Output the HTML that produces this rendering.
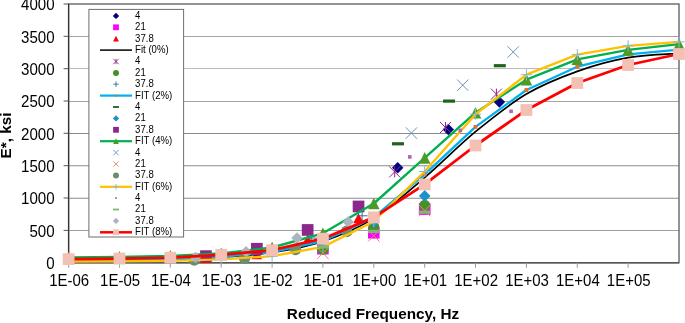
<!DOCTYPE html>
<html><head><meta charset="utf-8"><title>chart</title>
<style>html,body{margin:0;padding:0;background:#fff}svg text{font-family:"Liberation Sans",Arial,sans-serif}</style>
</head><body>
<svg width="685" height="323" viewBox="0 0 685 323" style="display:block">
<rect width="685" height="323" fill="#fff"/>
<line x1="68.6" x2="679.0" y1="36.5" y2="36.5" stroke="#a5a5a5" stroke-width="1"/>
<line x1="68.6" x2="679.0" y1="68.5" y2="68.5" stroke="#bcbcbc" stroke-width="1"/>
<line x1="68.6" x2="679.0" y1="101.5" y2="101.5" stroke="#a5a5a5" stroke-width="1"/>
<line x1="68.6" x2="679.0" y1="133.5" y2="133.5" stroke="#8c8c8c" stroke-width="1"/>
<line x1="68.6" x2="679.0" y1="165.5" y2="165.5" stroke="#a8a8a8" stroke-width="1"/>
<line x1="68.6" x2="679.0" y1="198.5" y2="198.5" stroke="#a8a8a8" stroke-width="1"/>
<line x1="68.6" x2="679.0" y1="230.5" y2="230.5" stroke="#a0a0a0" stroke-width="1"/>
<line x1="68.6" x2="679.0" y1="166.5" y2="166.5" stroke="#e2e2e2" stroke-width="1"/>
<line x1="68.6" x2="679.0" y1="197.5" y2="197.5" stroke="#e2e2e2" stroke-width="1"/>
<rect x="68.6" y="4.0" width="610.4" height="258.7" fill="none" stroke="#666" stroke-width="1.4"/>
<line x1="68.6" x2="68.6" y1="4.0" y2="262.7" stroke="#333" stroke-width="1.2"/>
<line x1="68.6" x2="679.0" y1="262.7" y2="262.7" stroke="#555" stroke-width="1.4"/>
<line x1="63.599999999999994" x2="68.6" y1="262.7" y2="262.7" stroke="#555" stroke-width="1"/>
<text transform="translate(54.6,269.1) scale(1,1.05)" text-anchor="end" font-size="15.1" fill="#000">0</text>
<line x1="63.599999999999994" x2="68.6" y1="230.4" y2="230.4" stroke="#555" stroke-width="1"/>
<text transform="translate(54.6,236.8) scale(1,1.05)" text-anchor="end" font-size="15.1" fill="#000">500</text>
<line x1="63.599999999999994" x2="68.6" y1="198.0" y2="198.0" stroke="#555" stroke-width="1"/>
<text transform="translate(54.6,204.4) scale(1,1.05)" text-anchor="end" font-size="15.1" fill="#000">1000</text>
<line x1="63.599999999999994" x2="68.6" y1="165.7" y2="165.7" stroke="#555" stroke-width="1"/>
<text transform="translate(54.6,172.1) scale(1,1.05)" text-anchor="end" font-size="15.1" fill="#000">1500</text>
<line x1="63.599999999999994" x2="68.6" y1="133.3" y2="133.3" stroke="#555" stroke-width="1"/>
<text transform="translate(54.6,139.8) scale(1,1.05)" text-anchor="end" font-size="15.1" fill="#000">2000</text>
<line x1="63.599999999999994" x2="68.6" y1="101.0" y2="101.0" stroke="#555" stroke-width="1"/>
<text transform="translate(54.6,107.4) scale(1,1.05)" text-anchor="end" font-size="15.1" fill="#000">2500</text>
<line x1="63.599999999999994" x2="68.6" y1="68.7" y2="68.7" stroke="#555" stroke-width="1"/>
<text transform="translate(54.6,75.1) scale(1,1.05)" text-anchor="end" font-size="15.1" fill="#000">3000</text>
<line x1="63.599999999999994" x2="68.6" y1="36.3" y2="36.3" stroke="#555" stroke-width="1"/>
<text transform="translate(54.6,42.7) scale(1,1.05)" text-anchor="end" font-size="15.1" fill="#000">3500</text>
<line x1="63.599999999999994" x2="68.6" y1="4.0" y2="4.0" stroke="#555" stroke-width="1"/>
<text transform="translate(54.6,10.4) scale(1,1.05)" text-anchor="end" font-size="15.1" fill="#000">4000</text>
<line x1="68.6" x2="68.6" y1="262.7" y2="267.7" stroke="#999" stroke-width="1"/>
<text transform="translate(69.2,285.7) scale(1,1.05)" text-anchor="middle" font-size="15" fill="#000">1E-06</text>
<line x1="119.5" x2="119.5" y1="262.7" y2="267.7" stroke="#999" stroke-width="1"/>
<text transform="translate(120.1,285.7) scale(1,1.05)" text-anchor="middle" font-size="15" fill="#000">1E-05</text>
<line x1="170.3" x2="170.3" y1="262.7" y2="267.7" stroke="#999" stroke-width="1"/>
<text transform="translate(170.9,285.7) scale(1,1.05)" text-anchor="middle" font-size="15" fill="#000">1E-04</text>
<line x1="221.2" x2="221.2" y1="262.7" y2="267.7" stroke="#999" stroke-width="1"/>
<text transform="translate(221.8,285.7) scale(1,1.05)" text-anchor="middle" font-size="15" fill="#000">1E-03</text>
<line x1="272.1" x2="272.1" y1="262.7" y2="267.7" stroke="#999" stroke-width="1"/>
<text transform="translate(272.7,285.7) scale(1,1.05)" text-anchor="middle" font-size="15" fill="#000">1E-02</text>
<line x1="322.9" x2="322.9" y1="262.7" y2="267.7" stroke="#999" stroke-width="1"/>
<text transform="translate(323.5,285.7) scale(1,1.05)" text-anchor="middle" font-size="15" fill="#000">1E-01</text>
<line x1="373.8" x2="373.8" y1="262.7" y2="267.7" stroke="#999" stroke-width="1"/>
<text transform="translate(374.4,285.7) scale(1,1.05)" text-anchor="middle" font-size="15" fill="#000">1E+00</text>
<line x1="424.7" x2="424.7" y1="262.7" y2="267.7" stroke="#999" stroke-width="1"/>
<text transform="translate(425.3,285.7) scale(1,1.05)" text-anchor="middle" font-size="15" fill="#000">1E+01</text>
<line x1="475.5" x2="475.5" y1="262.7" y2="267.7" stroke="#999" stroke-width="1"/>
<text transform="translate(476.1,285.7) scale(1,1.05)" text-anchor="middle" font-size="15" fill="#000">1E+02</text>
<line x1="526.4" x2="526.4" y1="262.7" y2="267.7" stroke="#999" stroke-width="1"/>
<text transform="translate(527.0,285.7) scale(1,1.05)" text-anchor="middle" font-size="15" fill="#000">1E+03</text>
<line x1="577.3" x2="577.3" y1="262.7" y2="267.7" stroke="#999" stroke-width="1"/>
<text transform="translate(577.9,285.7) scale(1,1.05)" text-anchor="middle" font-size="15" fill="#000">1E+04</text>
<line x1="628.1" x2="628.1" y1="262.7" y2="267.7" stroke="#999" stroke-width="1"/>
<text transform="translate(628.7,285.7) scale(1,1.05)" text-anchor="middle" font-size="15" fill="#000">1E+05</text>
<text x="373" y="319.4" text-anchor="middle" font-size="15.3" font-weight="bold" fill="#000">Reduced Frequency, Hz</text>
<text transform="translate(11.0,135.5) rotate(-90)" text-anchor="middle" font-size="15.3" font-weight="bold" fill="#000">E*, ksi</text>
<path d="M397.7 162.1L403.4 167.8L397.7 173.5L392.0 167.8Z" fill="#000080"/>
<path d="M448.3 123.8L454.0 129.5L448.3 135.2L442.6 129.5Z" fill="#000080"/>
<path d="M499.4 96.3L505.1 102.0L499.4 107.7L493.7 102.0Z" fill="#000080"/>
<rect x="317.1" y="242.9" width="11.6" height="11.6" fill="#ff00ff"/>
<rect x="368.0" y="227.0" width="11.6" height="11.6" fill="#ff00ff"/>
<rect x="418.9" y="203.3" width="11.6" height="11.6" fill="#ff00ff"/>
<path d="M205.9 252.6L211.1 263.0L200.7 263.0Z" fill="#ff0000"/>
<path d="M256.8 248.8L262.0 259.2L251.6 259.2Z" fill="#ff0000"/>
<path d="M307.7 234.2L312.9 244.6L302.5 244.6Z" fill="#ff0000"/>
<path d="M358.5 212.9L363.7 223.3L353.3 223.3Z" fill="#ff0000"/>
<path d="M68.6 260.2C77.1 260.2 102.5 260.1 119.5 260.0C136.4 259.8 153.4 259.8 170.3 259.3C187.3 258.9 204.2 258.3 221.2 257.2C238.2 256.1 255.1 255.1 272.1 252.5C289.0 249.8 306.0 247.0 322.9 241.4C339.9 235.7 356.8 229.0 373.8 218.4C390.8 207.8 407.7 192.0 424.7 177.6C441.6 163.1 458.6 145.6 475.5 131.7C492.5 117.8 509.4 104.1 526.4 94.1C543.4 84.0 560.3 77.5 577.3 71.4C594.2 65.3 611.2 60.7 628.1 57.7C645.1 54.7 670.5 54.0 679.0 53.3" fill="none" stroke="#000" stroke-width="1.7"/>
<path d="M389.2 166.4L400.2 177.4M389.2 177.4L400.2 166.4" stroke="#8a2a8c" stroke-width="1" fill="none"/><path d="M394.7 166.4L394.7 177.4" stroke="#8a2a8c" stroke-width="1" fill="none"/>
<path d="M440.0 122.0L451.0 133.0M440.0 133.0L451.0 122.0" stroke="#8a2a8c" stroke-width="1" fill="none"/><path d="M445.5 122.0L445.5 133.0" stroke="#8a2a8c" stroke-width="1" fill="none"/>
<path d="M490.9 88.6L501.9 99.6M490.9 99.6L501.9 88.6" stroke="#8a2a8c" stroke-width="1" fill="none"/><path d="M496.4 88.6L496.4 99.6" stroke="#8a2a8c" stroke-width="1" fill="none"/>
<circle cx="322.9" cy="249.4" r="5.6" fill="#469028"/>
<circle cx="373.8" cy="227.0" r="5.6" fill="#469028"/>
<circle cx="424.7" cy="205.4" r="5.6" fill="#469028"/>
<path d="M204.0 256.2L215.0 256.2M209.5 250.7L209.5 261.7" stroke="#2f6f9f" stroke-width="1" fill="none"/>
<path d="M254.9 251.7L265.9 251.7M260.4 246.2L260.4 257.2" stroke="#2f6f9f" stroke-width="1" fill="none"/>
<path d="M305.7 238.1L316.7 238.1M311.2 232.6L311.2 243.6" stroke="#2f6f9f" stroke-width="1" fill="none"/>
<path d="M356.6 215.8L367.6 215.8M362.1 210.3L362.1 221.3" stroke="#2f6f9f" stroke-width="1" fill="none"/>
<path d="M68.6 260.1L119.5 259.9L170.3 259.1L221.2 256.9L272.1 252.0L322.9 241.0L373.8 217.4L424.7 174.4L475.5 126.9L526.4 90.0L577.3 66.7L628.1 54.3L679.0 49.6" fill="none" stroke="#00b0f0" stroke-width="2.35" stroke-linejoin="round" stroke-linecap="butt"/>
<rect x="66.7" y="258.2" width="3.8" height="3.8" fill="#e0702a"/>
<rect x="117.6" y="258.0" width="3.8" height="3.8" fill="#e0702a"/>
<rect x="168.4" y="257.2" width="3.8" height="3.8" fill="#e0702a"/>
<rect x="219.3" y="255.0" width="3.8" height="3.8" fill="#e0702a"/>
<rect x="270.2" y="250.1" width="3.8" height="3.8" fill="#e0702a"/>
<rect x="321.0" y="239.1" width="3.8" height="3.8" fill="#e0702a"/>
<rect x="371.9" y="215.5" width="3.8" height="3.8" fill="#e0702a"/>
<rect x="422.8" y="172.5" width="3.8" height="3.8" fill="#e0702a"/>
<rect x="473.6" y="125.0" width="3.8" height="3.8" fill="#e0702a"/>
<rect x="524.5" y="88.1" width="3.8" height="3.8" fill="#e0702a"/>
<rect x="575.4" y="64.8" width="3.8" height="3.8" fill="#e0702a"/>
<rect x="626.2" y="52.4" width="3.8" height="3.8" fill="#e0702a"/>
<rect x="677.1" y="47.7" width="3.8" height="3.8" fill="#e0702a"/>
<rect x="392.0" y="142.2" width="12.0" height="3.2" fill="#1e641e"/>
<rect x="443.0" y="99.5" width="12.0" height="3.2" fill="#1e641e"/>
<rect x="493.8" y="64.1" width="12.0" height="3.2" fill="#1e641e"/>
<path d="M322.9 236.2L328.7 242.0L322.9 247.8L317.1 242.0Z" fill="#1e92c8"/>
<path d="M373.8 216.1L379.6 221.9L373.8 227.7L368.0 221.9Z" fill="#1e92c8"/>
<path d="M424.7 190.1L430.5 195.9L424.7 201.7L418.9 195.9Z" fill="#1e92c8"/>
<rect x="200.1" y="250.3" width="11.7" height="11.7" fill="#8c288c"/>
<rect x="251.0" y="242.9" width="11.7" height="11.7" fill="#8c288c"/>
<rect x="301.8" y="224.1" width="11.7" height="11.7" fill="#8c288c"/>
<rect x="352.7" y="200.6" width="11.7" height="11.7" fill="#8c288c"/>
<path d="M68.6 257.5L119.5 256.9L170.3 255.8L221.2 253.3L272.1 247.5L322.9 233.3L373.8 203.5L424.7 157.9L475.5 112.7L526.4 79.7L577.3 59.3L628.1 49.9L679.0 44.1" fill="none" stroke="#00b050" stroke-width="2.35" stroke-linejoin="round" stroke-linecap="butt"/>
<path d="M68.6 251.7L74.4 263.3L62.8 263.3Z" fill="#4c9b28"/>
<path d="M119.5 251.1L125.3 262.7L113.7 262.7Z" fill="#4c9b28"/>
<path d="M170.3 250.0L176.1 261.6L164.5 261.6Z" fill="#4c9b28"/>
<path d="M221.2 247.5L227.0 259.1L215.4 259.1Z" fill="#4c9b28"/>
<path d="M272.1 241.7L277.9 253.3L266.3 253.3Z" fill="#4c9b28"/>
<path d="M322.9 227.5L328.7 239.1L317.1 239.1Z" fill="#4c9b28"/>
<path d="M373.8 197.7L379.6 209.3L368.0 209.3Z" fill="#4c9b28"/>
<path d="M424.7 152.1L430.5 163.7L418.9 163.7Z" fill="#4c9b28"/>
<path d="M475.5 106.9L481.3 118.5L469.7 118.5Z" fill="#4c9b28"/>
<path d="M526.4 73.9L532.2 85.5L520.6 85.5Z" fill="#4c9b28"/>
<path d="M577.3 53.5L583.1 65.1L571.5 65.1Z" fill="#4c9b28"/>
<path d="M628.1 44.1L633.9 55.7L622.3 55.7Z" fill="#4c9b28"/>
<path d="M679.0 38.3L684.8 49.9L673.2 49.9Z" fill="#4c9b28"/>
<path d="M405.7 127.4L417.1 138.8M405.7 138.8L417.1 127.4" stroke="#7090b8" stroke-width="1" fill="none"/>
<path d="M457.0 79.5L468.4 90.9M457.0 90.9L468.4 79.5" stroke="#7090b8" stroke-width="1" fill="none"/>
<path d="M507.5 46.3L518.9 57.7M507.5 57.7L518.9 46.3" stroke="#7090b8" stroke-width="1" fill="none"/>
<path d="M317.2 247.5L328.6 258.9M317.2 258.9L328.6 247.5" stroke="#f08264" stroke-width="1" fill="none"/>
<path d="M368.1 230.1L379.5 241.5M368.1 241.5L379.5 230.1" stroke="#f08264" stroke-width="1" fill="none"/>
<path d="M419.0 204.9L430.4 216.3M419.0 216.3L430.4 204.9" stroke="#f08264" stroke-width="1" fill="none"/>
<circle cx="194.2" cy="260.0" r="5.8" fill="#6e8c6e"/>
<circle cx="244.6" cy="258.3" r="5.8" fill="#6e8c6e"/>
<circle cx="295.5" cy="249.4" r="5.8" fill="#6e8c6e"/>
<circle cx="346.7" cy="231.4" r="5.8" fill="#6e8c6e"/>
<path d="M68.6 261.5L119.5 261.3L170.3 260.8L221.2 259.3L272.1 256.2L322.9 246.9L373.8 221.5L424.7 171.5L475.5 114.2L526.4 74.7L577.3 54.6L628.1 45.8L679.0 41.9" fill="none" stroke="#ffc000" stroke-width="2.35" stroke-linejoin="round" stroke-linecap="butt"/>
<path d="M63.0 261.5L74.2 261.5M68.6 255.9L68.6 267.1" stroke="#82b9e1" stroke-width="1" fill="none"/>
<path d="M113.9 261.3L125.1 261.3M119.5 255.7L119.5 266.9" stroke="#82b9e1" stroke-width="1" fill="none"/>
<path d="M164.7 260.8L175.9 260.8M170.3 255.2L170.3 266.4" stroke="#82b9e1" stroke-width="1" fill="none"/>
<path d="M215.6 259.3L226.8 259.3M221.2 253.7L221.2 264.9" stroke="#82b9e1" stroke-width="1" fill="none"/>
<path d="M266.5 256.2L277.7 256.2M272.1 250.6L272.1 261.8" stroke="#82b9e1" stroke-width="1" fill="none"/>
<path d="M317.3 246.9L328.5 246.9M322.9 241.3L322.9 252.5" stroke="#82b9e1" stroke-width="1" fill="none"/>
<path d="M368.2 221.5L379.4 221.5M373.8 215.9L373.8 227.1" stroke="#82b9e1" stroke-width="1" fill="none"/>
<path d="M419.1 171.5L430.3 171.5M424.7 165.9L424.7 177.1" stroke="#82b9e1" stroke-width="1" fill="none"/>
<path d="M469.9 114.2L481.1 114.2M475.5 108.6L475.5 119.8" stroke="#82b9e1" stroke-width="1" fill="none"/>
<path d="M520.8 74.7L532.0 74.7M526.4 69.1L526.4 80.3" stroke="#82b9e1" stroke-width="1" fill="none"/>
<path d="M571.7 54.6L582.9 54.6M577.3 49.0L577.3 60.2" stroke="#82b9e1" stroke-width="1" fill="none"/>
<path d="M622.5 45.8L633.7 45.8M628.1 40.2L628.1 51.4" stroke="#82b9e1" stroke-width="1" fill="none"/>
<path d="M673.4 41.9L684.6 41.9M679.0 36.3L679.0 47.5" stroke="#82b9e1" stroke-width="1" fill="none"/>
<rect x="408.0" y="155.1" width="3.6" height="3.6" fill="#b464b4"/>
<rect x="458.5" y="128.6" width="3.6" height="3.6" fill="#b464b4"/>
<rect x="509.3" y="109.5" width="3.6" height="3.6" fill="#b464b4"/>
<rect x="317.1" y="245.2" width="11.7" height="3.2" fill="#7db96e"/>
<rect x="367.9" y="229.8" width="11.7" height="3.2" fill="#7db96e"/>
<rect x="418.8" y="210.6" width="11.7" height="3.2" fill="#7db96e"/>
<path d="M195.5 251.7L201.2 257.4L195.5 263.1L189.8 257.4Z" fill="#aab4c3"/>
<path d="M246.1 246.0L251.8 251.7L246.1 257.4L240.4 251.7Z" fill="#aab4c3"/>
<path d="M297.0 232.3L302.7 238.0L297.0 243.7L291.3 238.0Z" fill="#aab4c3"/>
<path d="M348.2 216.2L353.9 221.9L348.2 227.6L342.5 221.9Z" fill="#aab4c3"/>
<path d="M68.6 259.1L119.5 258.6L170.3 257.7L221.2 254.9L272.1 250.2L322.9 238.7L373.8 217.4L424.7 184.4L475.5 145.5L526.4 110.0L577.3 83.0L628.1 65.0L679.0 54.0" fill="none" stroke="#ff0000" stroke-width="2.8" stroke-linejoin="round" stroke-linecap="butt"/>
<rect x="62.7" y="253.2" width="11.8" height="11.8" fill="#f4c0b4"/>
<rect x="113.6" y="252.7" width="11.8" height="11.8" fill="#f4c0b4"/>
<rect x="164.4" y="251.8" width="11.8" height="11.8" fill="#f4c0b4"/>
<rect x="215.3" y="249.0" width="11.8" height="11.8" fill="#f4c0b4"/>
<rect x="266.2" y="244.3" width="11.8" height="11.8" fill="#f4c0b4"/>
<rect x="317.0" y="232.8" width="11.8" height="11.8" fill="#f4c0b4"/>
<rect x="367.9" y="211.5" width="11.8" height="11.8" fill="#f4c0b4"/>
<rect x="418.8" y="178.5" width="11.8" height="11.8" fill="#f4c0b4"/>
<rect x="469.6" y="139.6" width="11.8" height="11.8" fill="#f4c0b4"/>
<rect x="520.5" y="104.1" width="11.8" height="11.8" fill="#f4c0b4"/>
<rect x="571.4" y="77.1" width="11.8" height="11.8" fill="#f4c0b4"/>
<rect x="622.2" y="59.1" width="11.8" height="11.8" fill="#f4c0b4"/>
<rect x="673.1" y="48.1" width="11.8" height="11.8" fill="#f4c0b4"/>
<rect x="88.9" y="9.4" width="94.69999999999999" height="227.6" fill="#fff" stroke="#6e6e6e" stroke-width="1"/>
<path d="M116.0 12.7L119.2 15.9L116.0 19.1L112.8 15.9Z" fill="#000080"/>
<text transform="translate(135.1,18.8) scale(1,1.06)" font-size="9.6" fill="#000">4</text>
<rect x="113.1" y="24.4" width="5.8" height="5.8" fill="#ff00ff"/>
<text transform="translate(135.1,30.2) scale(1,1.06)" font-size="9.6" fill="#000">21</text>
<path d="M116.0 35.8L118.9 41.6L113.1 41.6Z" fill="#ff0000"/>
<text transform="translate(135.1,41.6) scale(1,1.06)" font-size="9.6" fill="#000">37.8</text>
<line x1="100" x2="132" y1="50.1" y2="50.1" stroke="#000" stroke-width="1.5"/>
<text transform="translate(135.1,53.0) scale(1,1.06)" font-size="9.6" fill="#000">Fit (0%)</text>
<path d="M113.3 58.8L118.7 64.2M113.3 64.2L118.7 58.8" stroke="#8a2a8c" stroke-width="0.9" fill="none"/><path d="M116.0 58.8L116.0 64.2" stroke="#8a2a8c" stroke-width="0.9" fill="none"/>
<text transform="translate(135.1,64.4) scale(1,1.06)" font-size="9.6" fill="#000">4</text>
<circle cx="116.0" cy="72.9" r="3.0" fill="#469028"/>
<text transform="translate(135.1,75.8) scale(1,1.06)" font-size="9.6" fill="#000">21</text>
<path d="M113.2 84.2L118.8 84.2M116.0 81.4L116.0 87.0" stroke="#2f6f9f" stroke-width="0.9" fill="none"/>
<text transform="translate(135.1,87.1) scale(1,1.06)" font-size="9.6" fill="#000">37.8</text>
<line x1="100" x2="132" y1="95.6" y2="95.6" stroke="#00b0f0" stroke-width="2.2"/><rect x="115.0" y="94.6" width="2.0" height="2.0" fill="#e0702a"/>
<text transform="translate(135.1,98.5) scale(1,1.06)" font-size="9.6" fill="#000">FIT (2%)</text>
<rect x="113.0" y="106.1" width="6.0" height="1.8" fill="#1e641e"/>
<text transform="translate(135.1,109.9) scale(1,1.06)" font-size="9.6" fill="#000">4</text>
<path d="M116.0 115.2L119.2 118.4L116.0 121.6L112.8 118.4Z" fill="#1e92c8"/>
<text transform="translate(135.1,121.3) scale(1,1.06)" font-size="9.6" fill="#000">21</text>
<rect x="113.1" y="126.9" width="5.8" height="5.8" fill="#8c288c"/>
<text transform="translate(135.1,132.7) scale(1,1.06)" font-size="9.6" fill="#000">37.8</text>
<line x1="100" x2="132" y1="141.2" y2="141.2" stroke="#00b050" stroke-width="2.2"/><path d="M116.0 138.3L118.9 144.1L113.1 144.1Z" fill="#4c9b28"/>
<text transform="translate(135.1,144.1) scale(1,1.06)" font-size="9.6" fill="#000">FIT (4%)</text>
<path d="M113.3 149.9L118.7 155.3M113.3 155.3L118.7 149.9" stroke="#7090b8" stroke-width="0.9" fill="none"/>
<text transform="translate(135.1,155.5) scale(1,1.06)" font-size="9.6" fill="#000">4</text>
<path d="M113.3 161.3L118.7 166.7M113.3 166.7L118.7 161.3" stroke="#f08264" stroke-width="0.9" fill="none"/>
<text transform="translate(135.1,166.9) scale(1,1.06)" font-size="9.6" fill="#000">21</text>
<circle cx="116.0" cy="175.4" r="3.0" fill="#6e8c6e"/>
<text transform="translate(135.1,178.3) scale(1,1.06)" font-size="9.6" fill="#000">37.8</text>
<line x1="100" x2="132" y1="186.8" y2="186.8" stroke="#ffc000" stroke-width="2.2"/><path d="M113.2 186.8L118.8 186.8M116.0 184.0L116.0 189.6" stroke="#82b9e1" stroke-width="0.9" fill="none"/>
<text transform="translate(135.1,189.7) scale(1,1.06)" font-size="9.6" fill="#000">FIT (6%)</text>
<rect x="115.1" y="197.2" width="1.8" height="1.8" fill="#b464b4"/>
<text transform="translate(135.1,201.0) scale(1,1.06)" font-size="9.6" fill="#000">4</text>
<rect x="113.0" y="208.6" width="6.0" height="1.8" fill="#7db96e"/>
<text transform="translate(135.1,212.4) scale(1,1.06)" font-size="9.6" fill="#000">21</text>
<path d="M116.0 217.7L119.2 220.9L116.0 224.1L112.8 220.9Z" fill="#aab4c3"/>
<text transform="translate(135.1,223.8) scale(1,1.06)" font-size="9.6" fill="#000">37.8</text>
<line x1="100" x2="132" y1="232.3" y2="232.3" stroke="#ff0000" stroke-width="2.5"/><rect x="113.1" y="229.4" width="5.8" height="5.8" fill="#f4c0b4"/>
<text transform="translate(135.1,235.2) scale(1,1.06)" font-size="9.6" fill="#000">FIT (8%)</text>
</svg>
</body></html>
